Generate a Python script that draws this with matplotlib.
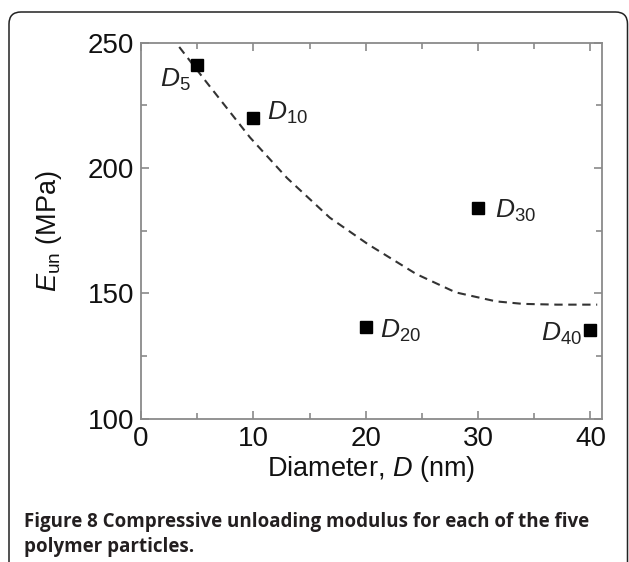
import matplotlib as mpl
mpl.use('Agg')
import matplotlib.pyplot as plt
from matplotlib.patches import FancyBboxPatch
from matplotlib.ticker import MultipleLocator

# measured particles
diam = [5, 10, 20, 30, 40]
e_un = [241, 220, 136.5, 184, 135.5]
names = ['$D_{5}$', '$D_{10}$', '$D_{20}$', '$D_{30}$', '$D_{40}$']

# label anchor points and alignment
lab_x = [4.4, 11.2, 21.3, 31.5, 39.2]
lab_y = [235, 222, 135, 183, 134]
lab_ha = ['right', 'left', 'left', 'left', 'right']

# dashed trend curve, read point by point
fit_x = [3.4, 5.8, 9.7, 13.0, 16.8, 20.2, 24.5, 28.0, 31.6, 34.0, 37.0, 40.6]
fit_y = [248.3, 234.4, 212.2, 196.0, 180.2, 169.6, 157.7, 150.4, 146.8, 145.8, 145.5, 145.5]

plt.rcParams['font.family'] = ['Liberation Sans', 'DejaVu Sans']
plt.rcParams['mathtext.fontset'] = 'custom'
plt.rcParams['mathtext.it'] = 'Liberation Sans:italic'
plt.rcParams['mathtext.rm'] = 'Liberation Sans'

fig = plt.figure(figsize=(6.29, 5.62), dpi=100)
ax = fig.add_axes([0.2242, 0.255, 0.7324, 0.669])

ax.plot(fit_x, fit_y, color='#333333', lw=1.5, dashes=(4, 2.7))
ax.plot(diam, e_un, 's', color='black', ms=8.5, ls='none')
for i in range(len(names)):
    ax.text(lab_x[i], lab_y[i], names[i], ha=lab_ha[i], va='center',
            fontsize=19, color='#222222')

ax.set_xlim(0, 41)
ax.set_ylim(100, 250)
ax.xaxis.set_major_locator(MultipleLocator(10))
ax.xaxis.set_minor_locator(MultipleLocator(5))
ax.yaxis.set_major_locator(MultipleLocator(50))
ax.yaxis.set_minor_locator(MultipleLocator(25))

for s in ax.spines.values():
    s.set_color('#8a8a8a')
    s.set_linewidth(1.3)
ax.tick_params(which='both', direction='in', top=True, right=True,
               color='#8a8a8a', width=1.2, labelsize=20, labelcolor='#111111')
ax.tick_params(which='major', length=6)
ax.tick_params(which='minor', length=4)
ax.tick_params(axis='x', pad=5)
ax.tick_params(axis='y', pad=5)

ax.set_xlabel('Diameter, $D$ (nm)', fontsize=19.5, color='#111111', labelpad=2)
ax.set_ylabel('$E_{\\mathrm{un}}$ (MPa)', fontsize=19.5, color='#111111', labelpad=17)

# rounded frame around figure + caption
frame = FancyBboxPatch((9, -60), 618.5, 550 + 60, boxstyle='round,pad=0,rounding_size=12',
                       transform=None, fill=False, ec='#222222', lw=1.1)
fig.patches.append(frame)

fig.text(24 / 629, 1 - 527 / 562, 'Figure 8 Compressive unloading modulus for each of the five',
         fontsize=13.5, fontweight='bold', family='Open Sans', color='#231f20', va='baseline')
fig.text(24 / 629, 1 - 552 / 562, 'polymer particles.',
         fontsize=13.5, fontweight='bold', family='Open Sans', color='#231f20', va='baseline')

fig.savefig('out.png', dpi=100)
